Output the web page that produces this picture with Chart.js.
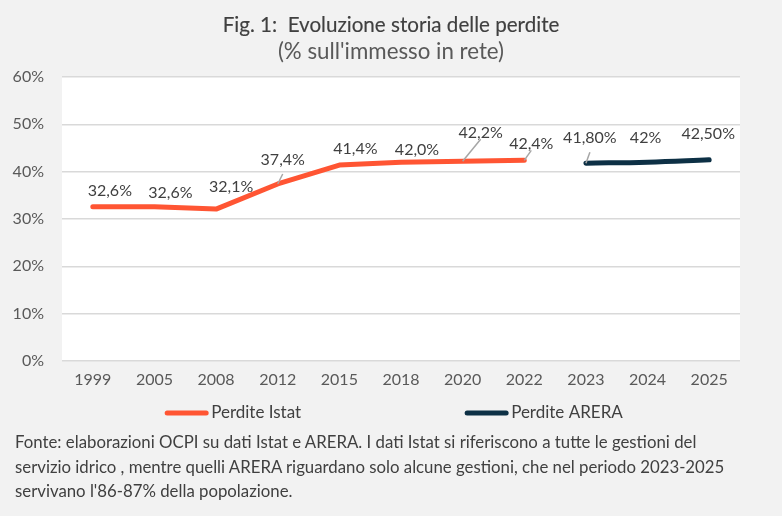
<!DOCTYPE html>
<html><head><meta charset="utf-8">
<script src="https://cdn.jsdelivr.net/npm/chart.js@4.4.1/dist/chart.umd.min.js"></script>
<style>
html,body{margin:0;padding:0;background:#f2f2f2;}
#wrap{position:relative;width:782px;height:516px;overflow:hidden;font-family:Lato,"Open Sans",sans-serif;background:#f2f2f2;}
#c{position:absolute;left:0;top:0;}
.t{position:absolute;left:0;width:782px;text-align:center;white-space:nowrap;line-height:26px;}
#title{top:11px;font-size:20.6px;color:#404040;-webkit-text-stroke:0.15px #404040;}
#sub{top:38px;font-size:22.3px;color:#595959;}
#foot{position:absolute;left:15px;top:430px;font-size:16.8px;line-height:24.5px;color:#404040;white-space:nowrap;}
</style></head>
<body>
<div id="wrap">
<canvas id="c" width="782" height="516"></canvas>
<div id="title" class="t">Fig. 1:&nbsp; Evoluzione storia delle perdite</div>
<div id="sub" class="t">(% sull'immesso in rete)</div>
<div id="foot">Fonte: elaborazioni OCPI su dati Istat e ARERA. I dati Istat si riferiscono a tutte le gestioni del<br>servizio idrico , mentre quelli ARERA riguardano solo alcune gestioni, che nel periodo 2023-2025<br>servivano l'86-87% della popolazione.</div>
</div>
<script>
// ---- data ----
const years = ['1999','2005','2008','2012','2015','2018','2020','2022','2023','2024','2025'];
const istatValues = [32.6, 32.6, 32.1, 37.4, 41.4, 42.0, 42.2, 42.4, null, null, null];
const areraValues = [null, null, null, null, null, null, null, null, 41.8, 42.0, 42.5];
const istatLabels = ['32,6%','32,6%','32,1%','37,4%','41,4%','42,0%','42,2%','42,4%', null, null, null];
const areraLabels = [null, null, null, null, null, null, null, null, '41,80%','42%','42,50%'];
const seriesNames = ['Perdite Istat', 'Perdite ARERA'];

// ---- label placement (style, not data) ----
const labelDx = [17, 16, 15, 5, 16, 16, 18, 7, 4, -2, -1];
const labelDy = [-16, -14, -22, -24, -16, -12, -28, -16, -25, -24, -26];
const leaderStart = [null, null, null, 14, null, null, 6, 6, 14, null, null];

const COLORS = ['#ff5533', '#0d3045'];
const FONT = 'Lato, "Open Sans", sans-serif';

const bgPlugin = {
  id: 'plotBg',
  beforeDraw(chart) {
    const {ctx, chartArea: a} = chart;
    ctx.save();
    ctx.fillStyle = '#ffffff';
    ctx.fillRect(a.left, a.top, a.right - a.left, a.bottom - a.top);
    ctx.restore();
  }
};

const labelPlugin = {
  id: 'dataLabels',
  afterDatasetsDraw(chart) {
    const ctx = chart.ctx;
    const labelSets = [istatLabels, areraLabels];
    ctx.save();
    chart.data.datasets.forEach((ds, di) => {
      const meta = chart.getDatasetMeta(di);
      meta.data.forEach((pt, i) => {
        if (ds.data[i] === null || ds.data[i] === undefined) return;
        const txt = labelSets[di][i];
        if (!txt) return;
        const lx = pt.x + labelDx[i];
        const ly = pt.y + labelDy[i];
        if (leaderStart[i] !== null) {
          ctx.strokeStyle = '#a6a6a6';
          ctx.lineWidth = 1.5;
          ctx.beginPath();
          ctx.moveTo(lx, ly + leaderStart[i]);
          ctx.lineTo(pt.x, pt.y);
          ctx.stroke();
        }
        ctx.font = '16px ' + FONT;
        ctx.fillStyle = '#404040';
        ctx.textAlign = 'center';
        ctx.textBaseline = 'middle';
        ctx.fillText(txt, lx, ly);
      });
    });
    ctx.restore();
  }
};

const legendPlugin = {
  id: 'lineLegend',
  afterDraw(chart) {
    const ctx = chart.ctx;
    ctx.save();
    ctx.font = '17px ' + FONT;
    const sample = 43, gap = 3, spacing = 164, y = 413;
    const items = chart.data.datasets.map(d => ({label: d.label, color: d.borderColor, w: sample + gap + ctx.measureText(d.label).width}));
    const total = items.reduce((s, it) => s + it.w, 0) + spacing * (items.length - 1);
    let x = 394 - total / 2;
    items.forEach(it => {
      ctx.strokeStyle = it.color;
      ctx.lineWidth = 5;
      ctx.lineCap = 'round';
      ctx.beginPath();
      ctx.moveTo(x + 2, y);
      ctx.lineTo(x + sample - 2, y);
      ctx.stroke();
      ctx.fillStyle = '#404040';
      ctx.textAlign = 'left';
      ctx.textBaseline = 'middle';
      ctx.fillText(it.label, x + sample + gap, y);
      x += it.w + spacing;
    });
    ctx.restore();
  }
};

new Chart(document.getElementById('c'), {
  type: 'line',
  data: {
    labels: years,
    datasets: [
      {label: seriesNames[0], data: istatValues, borderColor: COLORS[0], backgroundColor: COLORS[0],
       borderWidth: 5, pointRadius: 0, tension: 0, borderCapStyle: 'round', borderJoinStyle: 'round', spanGaps: false},
      {label: seriesNames[1], data: areraValues, borderColor: COLORS[1], backgroundColor: COLORS[1],
       borderWidth: 5, pointRadius: 0, tension: 0.4, borderCapStyle: 'round', borderJoinStyle: 'round', spanGaps: false}
    ]
  },
  options: {
    responsive: false,
    animation: false,
    devicePixelRatio: 1,
    layout: {padding: {top: 77, left: 0, right: 42, bottom: 125}},
    plugins: {legend: {display: false}, tooltip: {enabled: false}, title: {display: false}},
    scales: {
      x: {
        offset: true,
        grid: {display: false, drawTicks: false},
        border: {display: false},
        ticks: {padding: 9, color: '#595959', font: {family: FONT, size: 16}, maxRotation: 0, autoSkip: false},
        afterFit(s) { s.height = 30; }
      },
      y: {
        min: 0, max: 60,
        grid: {color: '#d9d9d9', lineWidth: 1.5, drawTicks: false},
        border: {display: false},
        ticks: {stepSize: 10, padding: 18, color: '#595959', font: {family: FONT, size: 16}, callback: v => v + '%'},
        afterFit(s) { s.width = 62; }
      }
    }
  },
  plugins: [bgPlugin, labelPlugin, legendPlugin]
});
</script>
</body></html>
